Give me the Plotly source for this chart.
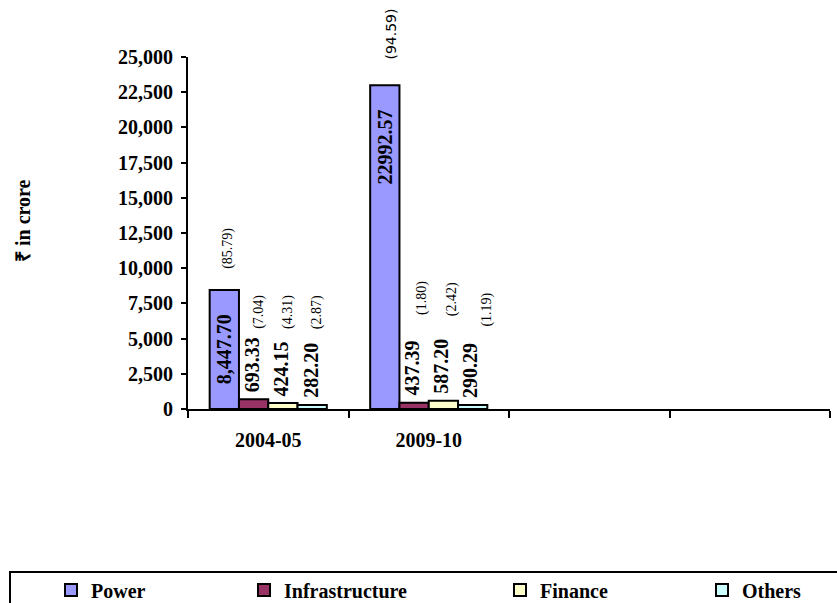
import plotly.graph_objects as go

# ---- data -------------------------------------------------------------
years = ["2004-05", "2009-10"]
series = ["Power", "Infrastructure", "Finance", "Others"]
power = [8447.70, 22992.57]
infrastructure = [693.33, 437.39]
finance = [424.15, 587.20]
others = [282.20, 290.29]
# percentage share of each sector in the year's total
power_pct = [85.79, 94.59]
infrastructure_pct = [7.04, 1.80]
finance_pct = [4.31, 2.42]
others_pct = [2.87, 1.19]

values = [power, infrastructure, finance, others]
shares = [power_pct, infrastructure_pct, finance_pct, others_pct]

# ---- styling ----------------------------------------------------------
colors = ["#9999FF", "#993366", "#FFFFCC", "#CCFFFF"]
SERIF = "Liberation Serif, Times New Roman, serif"
SANS = "DejaVu Sans, Arial, sans-serif"
BARGAP = 0.27
use_thousands = [True, False]            # number format used for each year's labels
slots = years + [" ", "  "]              # two empty slots on the category axis

W, H = 837, 603
ML, MR, MT, MB = 188, 7, 57, 194
plot_w = W - ML - MR
plot_h = H - MT - MB

# label offsets in pixels (lift above bar top, horizontal nudge)
pct_lift = [[20, 25], [69, 87], [73, 84], [75, 77]]
pct_dx = [[3, 6], [6, 8], [5, 8], [5, 14]]
pct_font = [[SERIF, SANS], [SERIF, SERIF], [SERIF, SERIF], [SERIF, SERIF]]

# left edge (px) of each legend entry along the bottom strip
legend_left = [51, 244, 500, 702]
legend_names = ["legend", "legend2", "legend3", "legend4"]

fig = go.Figure()
for name, vals, col, lg in zip(series, values, colors, legend_names):
    fig.add_trace(go.Bar(
        name=name, x=years, y=vals, legend=lg,
        marker=dict(color=col, line=dict(color="black", width=2)),
    ))

n = len(series)
w = (1 - BARGAP) / n


def bar_x(k, i):
    return k - (1 - BARGAP) / 2 + w * (i + 0.5)


annotations = []
for i, (vals, pcts) in enumerate(zip(values, shares)):
    for k, (v, p) in enumerate(zip(vals, pcts)):
        txt = f"{v:,.2f}" if use_thousands[k] else f"{v:.2f}"
        if i == 0:
            # value written inside the tall bar, near its top
            annotations.append(dict(
                x=bar_x(k, i), y=v, xref="x", yref="y", text=f"<b>{txt}</b>",
                showarrow=False, textangle=-90, xanchor="center", yanchor="top",
                yshift=-23, borderpad=0,
                font=dict(family=SERIF, size=20, color="black")))
        else:
            annotations.append(dict(
                x=bar_x(k, i), y=v, xref="x", yref="y", text=f"<b>{txt}</b>",
                showarrow=False, textangle=-90, xanchor="center", yanchor="bottom",
                yshift=6, xshift=-2, borderpad=0,
                font=dict(family=SERIF, size=20, color="black")))
        annotations.append(dict(
            x=bar_x(k, i), y=v, xref="x", yref="y", text=f"({p:.2f})",
            showarrow=False, textangle=-90, xanchor="center", yanchor="bottom",
            yshift=pct_lift[i][k], xshift=pct_dx[i][k], borderpad=0,
            font=dict(family=pct_font[i][k], size=14, color="black")))

# y-axis title
annotations.append(dict(
    x=(23 - ML) / plot_w, y=(H - MB - 221) / plot_h, xref="paper", yref="paper",
    text="<b>₹ in crore</b>", showarrow=False, textangle=-90,
    xanchor="center", yanchor="middle",
    font=dict(family=SERIF, size=20, color="black")))

legend_style = dict(
    orientation="h", xref="container", yref="container",
    xanchor="left", yanchor="middle", y=(H - 590) / H,
    itemwidth=30,
    font=dict(family=SERIF, size=20, color="black", weight="bold"),
    borderwidth=0, bgcolor="rgba(0,0,0,0)",
)
legends = {lg: dict(legend_style, x=left / W) for lg, left in zip(legend_names, legend_left)}

fig.update_layout(
    width=W, height=H,
    margin=dict(l=ML, r=MR, t=MT, b=MB),
    paper_bgcolor="white", plot_bgcolor="white",
    barmode="group", bargap=BARGAP, bargroupgap=0,
    font=dict(family=SERIF, size=20, color="black"),
    showlegend=True,
    annotations=annotations,
    **legends,
)

fig.update_xaxes(
    type="category", categoryorder="array", categoryarray=slots,
    range=[-0.5, len(slots) - 0.5],
    showline=True, linecolor="black", linewidth=2,
    ticks="outside", tickson="boundaries", ticklen=7, tickwidth=2, tickcolor="black",
    tickfont=dict(family=SERIF, size=20, color="black", weight="bold"),
    ticklabelstandoff=12,
    showgrid=False, zeroline=False,
)
fig.update_yaxes(
    range=[0, 25000], dtick=2500, tickformat=",",
    showline=True, linecolor="black", linewidth=2,
    ticks="outside", ticklen=5, tickwidth=2, tickcolor="black",
    tickfont=dict(family=SERIF, size=20, color="black", weight="bold"),
    ticklabelstandoff=4,
    showgrid=False, zeroline=False,
)

# legend frame
fig.add_shape(
    type="rect", xref="paper", yref="paper",
    x0=(10 - ML) / plot_w, x1=(845 - ML) / plot_w,
    y0=(H - MB - 612) / plot_h, y1=(H - MB - 572) / plot_h,
    line=dict(color="black", width=2), fillcolor="rgba(0,0,0,0)",
)

fig.write_html("out.html")
